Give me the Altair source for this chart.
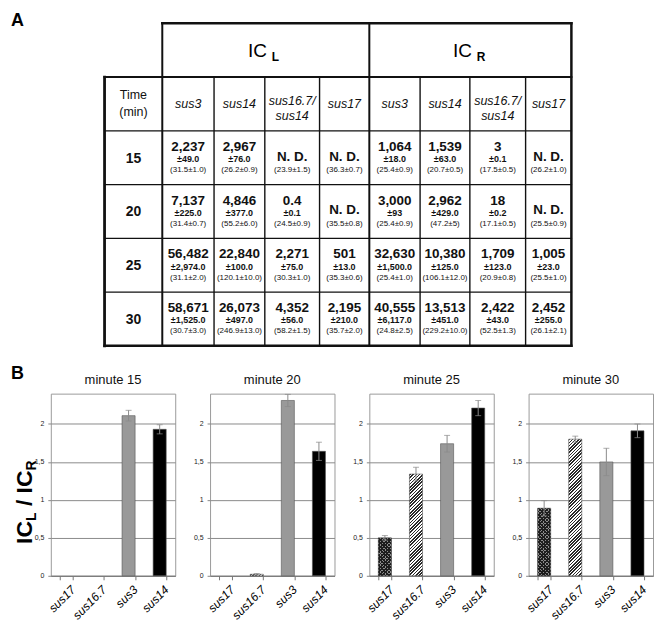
import math
import pandas as pd
import altair as alt

FONT = "Liberation Sans"

# ---------------- table data (panel A) ----------------
TIMES = ["15", "20", "25", "30"]
STRAIN_HEADS = ["sus3", "sus14", "sus16.7/\nsus14", "sus17"]

ICL_VAL = [["2,237", "2,967", "N. D.", "N. D."],
           ["7,137", "4,846", "0.4", "N. D."],
           ["56,482", "22,840", "2,271", "501"],
           ["58,671", "26,073", "4,352", "2,195"]]
ICL_PM = [["±49.0", "±76.0", "", ""],
          ["±225.0", "±377.0", "±0.1", ""],
          ["±2,974.0", "±100.0", "±75.0", "±13.0"],
          ["±1,525.0", "±497.0", "±56.0", "±210.0"]]
ICL_CT = [["(31.5±1.0)", "(26.2±0.9)", "(23.9±1.5)", "(36.3±0.7)"],
          ["(31.4±0.7)", "(55.2±6.0)", "(24.5±0.9)", "(35.5±0.8)"],
          ["(31.1±2.0)", "(120.1±10.0)", "(30.3±1.0)", "(35.3±0.6)"],
          ["(30.7±3.0)", "(246.9±13.0)", "(58.2±1.5)", "(35.7±2.0)"]]
ICR_VAL = [["1,064", "1,539", "3", "N. D."],
           ["3,000", "2,962", "18", "N. D."],
           ["32,630", "10,380", "1,709", "1,005"],
           ["40,555", "13,513", "2,422", "2,452"]]
ICR_PM = [["±18.0", "±63.0", "±0.1", ""],
          ["±93", "±429.0", "±0.2", ""],
          ["±1,500.0", "±125.0", "±123.0", "±23.0"],
          ["±6,117.0", "±451.0", "±43.0", "±255.0"]]
ICR_CT = [["(25.4±0.9)", "(20.7±0.5)", "(17.5±0.5)", "(26.2±1.0)"],
          ["(25.4±0.9)", "(47.2±5)", "(17.1±0.5)", "(25.5±0.9)"],
          ["(25.4±1.0)", "(106.1±12.0)", "(20.9±0.8)", "(25.5±1.0)"],
          ["(24.8±2.5)", "(229.2±10.0)", "(52.5±1.3)", "(26.1±2.1)"]]

# ---------------- bar data (panel B) ----------------
STRAINS = ["sus17", "sus16.7", "sus3", "sus14"]
MINUTES = ["minute 15", "minute 20", "minute 25", "minute 30"]
RATIO = [[None, None, 2.11, 1.93],
         [None, 0.02, 2.31, 1.64],
         [0.50, 1.34, 1.74, 2.21],
         [0.89, 1.80, 1.50, 1.91]]
ERR = [[None, None, 0.07, 0.06],
       [None, 0.01, 0.08, 0.12],
       [0.03, 0.09, 0.11, 0.10],
       [0.10, 0.04, 0.18, 0.09]]

# ---------------- table layout (table units: columns 0..9, rows 0..6) ----------------
H_LINES = [(0, 1, 9, 2.5), (1, 0, 9, 2.0), (2, 0, 9, 1.4), (3, 0, 9, 1.4),
           (4, 0, 9, 1.4), (5, 0, 9, 1.4), (6, 0, 9, 2.5)]
V_LINES = [(0, 1, 6, 2.8), (1, 0, 6, 2.0), (2, 1, 6, 1.4), (3, 1, 6, 1.4),
           (4, 1, 6, 1.4), (5, 0, 6, 2.0), (6, 1, 6, 1.4), (7, 1, 6, 1.4),
           (8, 1, 6, 1.4), (9, 0, 6, 2.5)]
COL_EDGES_PX = [54, 112, 164, 215, 270, 320, 371, 421, 477, 523]

TW, TH = 608, 324
xs = alt.Scale(domain=list(range(10)), range=COL_EDGES_PX)
ys = alt.Scale(domain=[0, 6], range=[0, TH])

lines = []
for y, x0, x1, w in H_LINES:
    lines.append({"x": x0, "x2": x1, "y": y, "y2": y, "w": w})
for x, y0, y1, w in V_LINES:
    lines.append({"x": x, "x2": x, "y": y0, "y2": y1, "w": w})
lines_df = pd.DataFrame(lines)

cells = []
for side, (V, P, C) in enumerate([(ICL_VAL, ICL_PM, ICL_CT), (ICR_VAL, ICR_PM, ICR_CT)]):
    for i in range(4):
        for j in range(4):
            cells.append({"c": 1 + 4 * side + j + 0.5, "r": 2 + i + 0.5,
                          "val": V[i][j], "pm": P[i][j], "ct": C[i][j],
                          "nd": "yes" if V[i][j] == "N. D." else "no"})
cells_df = pd.DataFrame(cells)

heads = []
for side in range(2):
    for j, h in enumerate(STRAIN_HEADS):
        heads.append({"c": 1 + 4 * side + j + 0.5, "r": 1.5, "t": h,
                      "two": "yes" if "\n" in h else "no"})
heads_df = pd.DataFrame(heads)
rowlab_df = pd.DataFrame({"c": [0.5] * 4, "r": [2.5 + i for i in range(4)], "t": TIMES})
time_df = pd.DataFrame({"c": [0.5], "r": [1.5], "t": ["Time\n(min)"]})
ic_df = pd.DataFrame({"c": [3, 7], "r": [0.5, 0.5], "t": ["IC", "IC"], "s": ["L", "R"]})
letters_df = pd.DataFrame({"t": ["A", "B"], "px": [-40, -40], "py": [-11, TH + 19]})

enc = dict(x=alt.X("c:Q", scale=xs, axis=None), y=alt.Y("r:Q", scale=ys, axis=None))

grid = alt.Chart(lines_df).mark_rule(color="#111", strokeCap="square").encode(
    x=alt.X("x:Q", scale=xs, axis=None), x2="x2:Q",
    y=alt.Y("y:Q", scale=ys, axis=None), y2="y2:Q",
    strokeWidth=alt.StrokeWidth("w:Q", scale=None))

ic_main = alt.Chart(ic_df).mark_text(font=FONT, fontSize=19, align="right", dx=2, dy=7,
                                     baseline="alphabetic", color="black").encode(text="t:N", **enc)
ic_sub = alt.Chart(ic_df).mark_text(font=FONT, fontSize=12, fontWeight="bold", align="left",
                                    dx=7, dy=11, baseline="alphabetic", color="black").encode(text="s:N", **enc)
head1 = alt.Chart(heads_df).transform_filter("datum.two == 'no'").mark_text(
    font=FONT, fontSize=12.5, fontStyle="italic", baseline="alphabetic", dy=4, color="#111").encode(text="t:N", **enc)
head2 = alt.Chart(heads_df).transform_filter("datum.two == 'yes'").mark_text(
    font=FONT, fontSize=12.5, fontStyle="italic", baseline="alphabetic", dy=1, lineBreak="\n",
    lineHeight=15, color="#111").encode(text="t:N", **enc)
time_t = alt.Chart(time_df).mark_text(font=FONT, fontSize=12.5, baseline="alphabetic", dy=-5,
                                      lineBreak="\n", lineHeight=17, color="#111").encode(text="t:N", **enc)
rowlab = alt.Chart(rowlab_df).mark_text(font=FONT, fontSize=14, fontWeight="bold", baseline="alphabetic",
                                        dy=5, color="#111").encode(text="t:N", **enc)
num = alt.Chart(cells_df).transform_filter("datum.nd == 'no'").mark_text(
    font=FONT, fontSize=13.5, fontWeight="bold", baseline="alphabetic", dy=-7, color="#111").encode(text="val:N", **enc)
ndt = alt.Chart(cells_df).transform_filter("datum.nd == 'yes'").mark_text(
    font=FONT, fontSize=13.5, fontWeight="bold", baseline="alphabetic", dy=3, color="#111").encode(text="val:N", **enc)
pm = alt.Chart(cells_df).mark_text(font=FONT, fontSize=9, fontWeight="bold", baseline="alphabetic",
                                   dy=4.5, color="#111").encode(text="pm:N", **enc)
ct = alt.Chart(cells_df).mark_text(font=FONT, fontSize=8, baseline="alphabetic",
                                   dy=14.5, color="#111").encode(text="ct:N", **enc)
letters = alt.Chart(letters_df).mark_text(font=FONT, fontSize=18, fontWeight="bold", align="left",
                                          baseline="top", color="black").encode(
    text="t:N", x=alt.X("px:Q", scale=None), y=alt.Y("py:Q", scale=None))

table = alt.layer(grid, ic_main, ic_sub, head1, head2, time_t, rowlab, num, ndt, pm, ct, letters).properties(
    width=TW, height=TH, view=alt.ViewBackground(strokeOpacity=0))

# ---------------- bar panels ----------------
PW, PH = 125, 183
PI = 0.58
STEP = PW / 4.0
BW = STEP * (1 - PI)
YMAX = 2.4


def stripes(w, h, period, frac, c_on, c_off, back=False):
    span = (w + h) / math.sqrt(2)
    k = (w + h) / (w * w + h * h)
    a, b = w * k, h * k
    p = period / span
    stops = []
    t = 0.0
    while t < 1.0:
        t1 = min(t + p * frac, 1.0)
        t2 = min(t + p, 1.0)
        stops += [(t, c_on), (t1, c_on), (t1, c_off), (t2, c_off)]
        t += p
    gs = [alt.GradientStop(offset=round(o, 5), color=c) for o, c in stops]
    if back:
        return alt.LinearGradient(gradient="linear", stops=gs, x1=0, y1=1, x2=a, y2=1 - b)
    return alt.LinearGradient(gradient="linear", stops=gs, x1=0, y1=0, x2=a, y2=b)


xscale = alt.Scale(domain=STRAINS, paddingInner=PI, paddingOuter=PI / 2)
yscale = alt.Scale(domain=[0, YMAX], nice=False, zero=True)
xaxis = alt.Axis(title=None, labelAngle=315, labelAlign="right", labelBaseline="top",
                 labelFont=FONT, labelFontStyle="italic", labelFontSize=12, labelColor="black",
                 labelPadding=4, labelOffset=3, domainColor="#777", tickColor="#777", tickSize=4,
                 tickBand="extent", grid=False)
yaxis = alt.Axis(title=None, values=[0, 0.5, 1, 1.5, 2],
                 labelExpr="replace(format(datum.value, '~g'), '.', ',')",
                 labelFont=FONT, labelFontSize=7, labelColor="#222", labelPadding=4,
                 domain=False, ticks=True, tickSize=3, tickColor="#888",
                 grid=True, gridColor="#8a8a8a", gridWidth=1)


def panel(k):
    df = pd.DataFrame({"strain": STRAINS, "ratio": RATIO[k], "err": ERR[k]})
    base = alt.Chart(df).encode(x=alt.X("strain:N", sort=STRAINS, scale=xscale, axis=xaxis))
    Y = alt.Y("ratio:Q", scale=yscale, axis=yaxis)
    layers = []
    layers.append(base.transform_filter("datum.strain == 'sus3' || datum.strain == 'sus14'").mark_bar(
        stroke="#555", strokeWidth=0.6).encode(
        y=Y, color=alt.Color("strain:N", scale=alt.Scale(domain=["sus3", "sus14"],
                                                         range=["#999999", "#000000"]), legend=None)))
    v167 = RATIO[k][1]
    if v167 is not None:
        h = v167 / YMAX * PH
        layers.append(base.transform_filter("datum.strain == 'sus16.7'").mark_bar(
            fill=stripes(BW, h, 2.3, 0.5, "#2a2a2a", "#ffffff"), stroke="#555", strokeWidth=0.6).encode(y=Y))
    v17 = RATIO[k][0]
    if v17 is not None:
        h = v17 / YMAX * PH
        layers.append(base.transform_filter("datum.strain == 'sus17'").mark_bar(
            fill=stripes(BW, h, 2.4, 0.5, "#1e1e1e", "#8c8c8c")).encode(y=Y))
        layers.append(base.transform_filter("datum.strain == 'sus17'").mark_bar(
            fill=stripes(BW, h, 2.4, 0.5, "#1e1e1e", "rgba(0,0,0,0)", back=True),
            stroke="#444", strokeWidth=0.6).encode(y=Y))
    eb = base.transform_filter("isValid(datum.ratio) && isValid(datum.err)").transform_calculate(
        lo="datum.ratio - datum.err", hi="datum.ratio + datum.err")
    layers.append(eb.mark_rule(color="#8a8a8a", strokeWidth=1).encode(
        y=alt.Y("lo:Q", scale=yscale, axis=yaxis), y2="hi:Q"))
    layers.append(eb.mark_tick(color="#8a8a8a", size=6, thickness=1).encode(
        y=alt.Y("lo:Q", scale=yscale, axis=yaxis)))
    layers.append(eb.mark_tick(color="#8a8a8a", size=6, thickness=1).encode(
        y=alt.Y("hi:Q", scale=yscale, axis=yaxis)))
    if k == 0:
        # y-axis title "IC_L / IC_R" built from rotated pieces (subscripts smaller and lowered)
        pieces = [("IC", 23, 0, 151), ("L", 14, 4, 128), ("/", 23, 0, 113),
                  ("IC", 23, 0, 100.2), ("R", 14, 4, 77.2)]
        for txt, fs, dx, y0 in pieces:
            d = pd.DataFrame({"t": [txt]})
            layers.append(alt.Chart(d).mark_text(font=FONT, fontSize=fs, fontWeight="bold", angle=270,
                                                 align="left", baseline="alphabetic", color="black").encode(
                text="t:N", x=alt.value(-19 + dx), y=alt.value(y0)))
    return alt.layer(*layers).properties(
        width=PW, height=PH,
        title=alt.TitleParams(MINUTES[k], font=FONT, fontSize=13, fontWeight="normal", offset=7,
                              color="#111", frame="group", anchor="middle"),
        view=alt.ViewBackground(stroke="#9a9a9a", strokeWidth=1))


row = alt.hconcat(*[panel(k) for k in range(4)], spacing=35, bounds="flush")
chart = alt.vconcat(table, row, spacing=48, bounds="flush").properties(
    padding={"left": 3, "top": 3, "right": 0, "bottom": 0}).configure(font=FONT)

chart.save("out.html", embed_options={"renderer": "svg", "actions": False})
